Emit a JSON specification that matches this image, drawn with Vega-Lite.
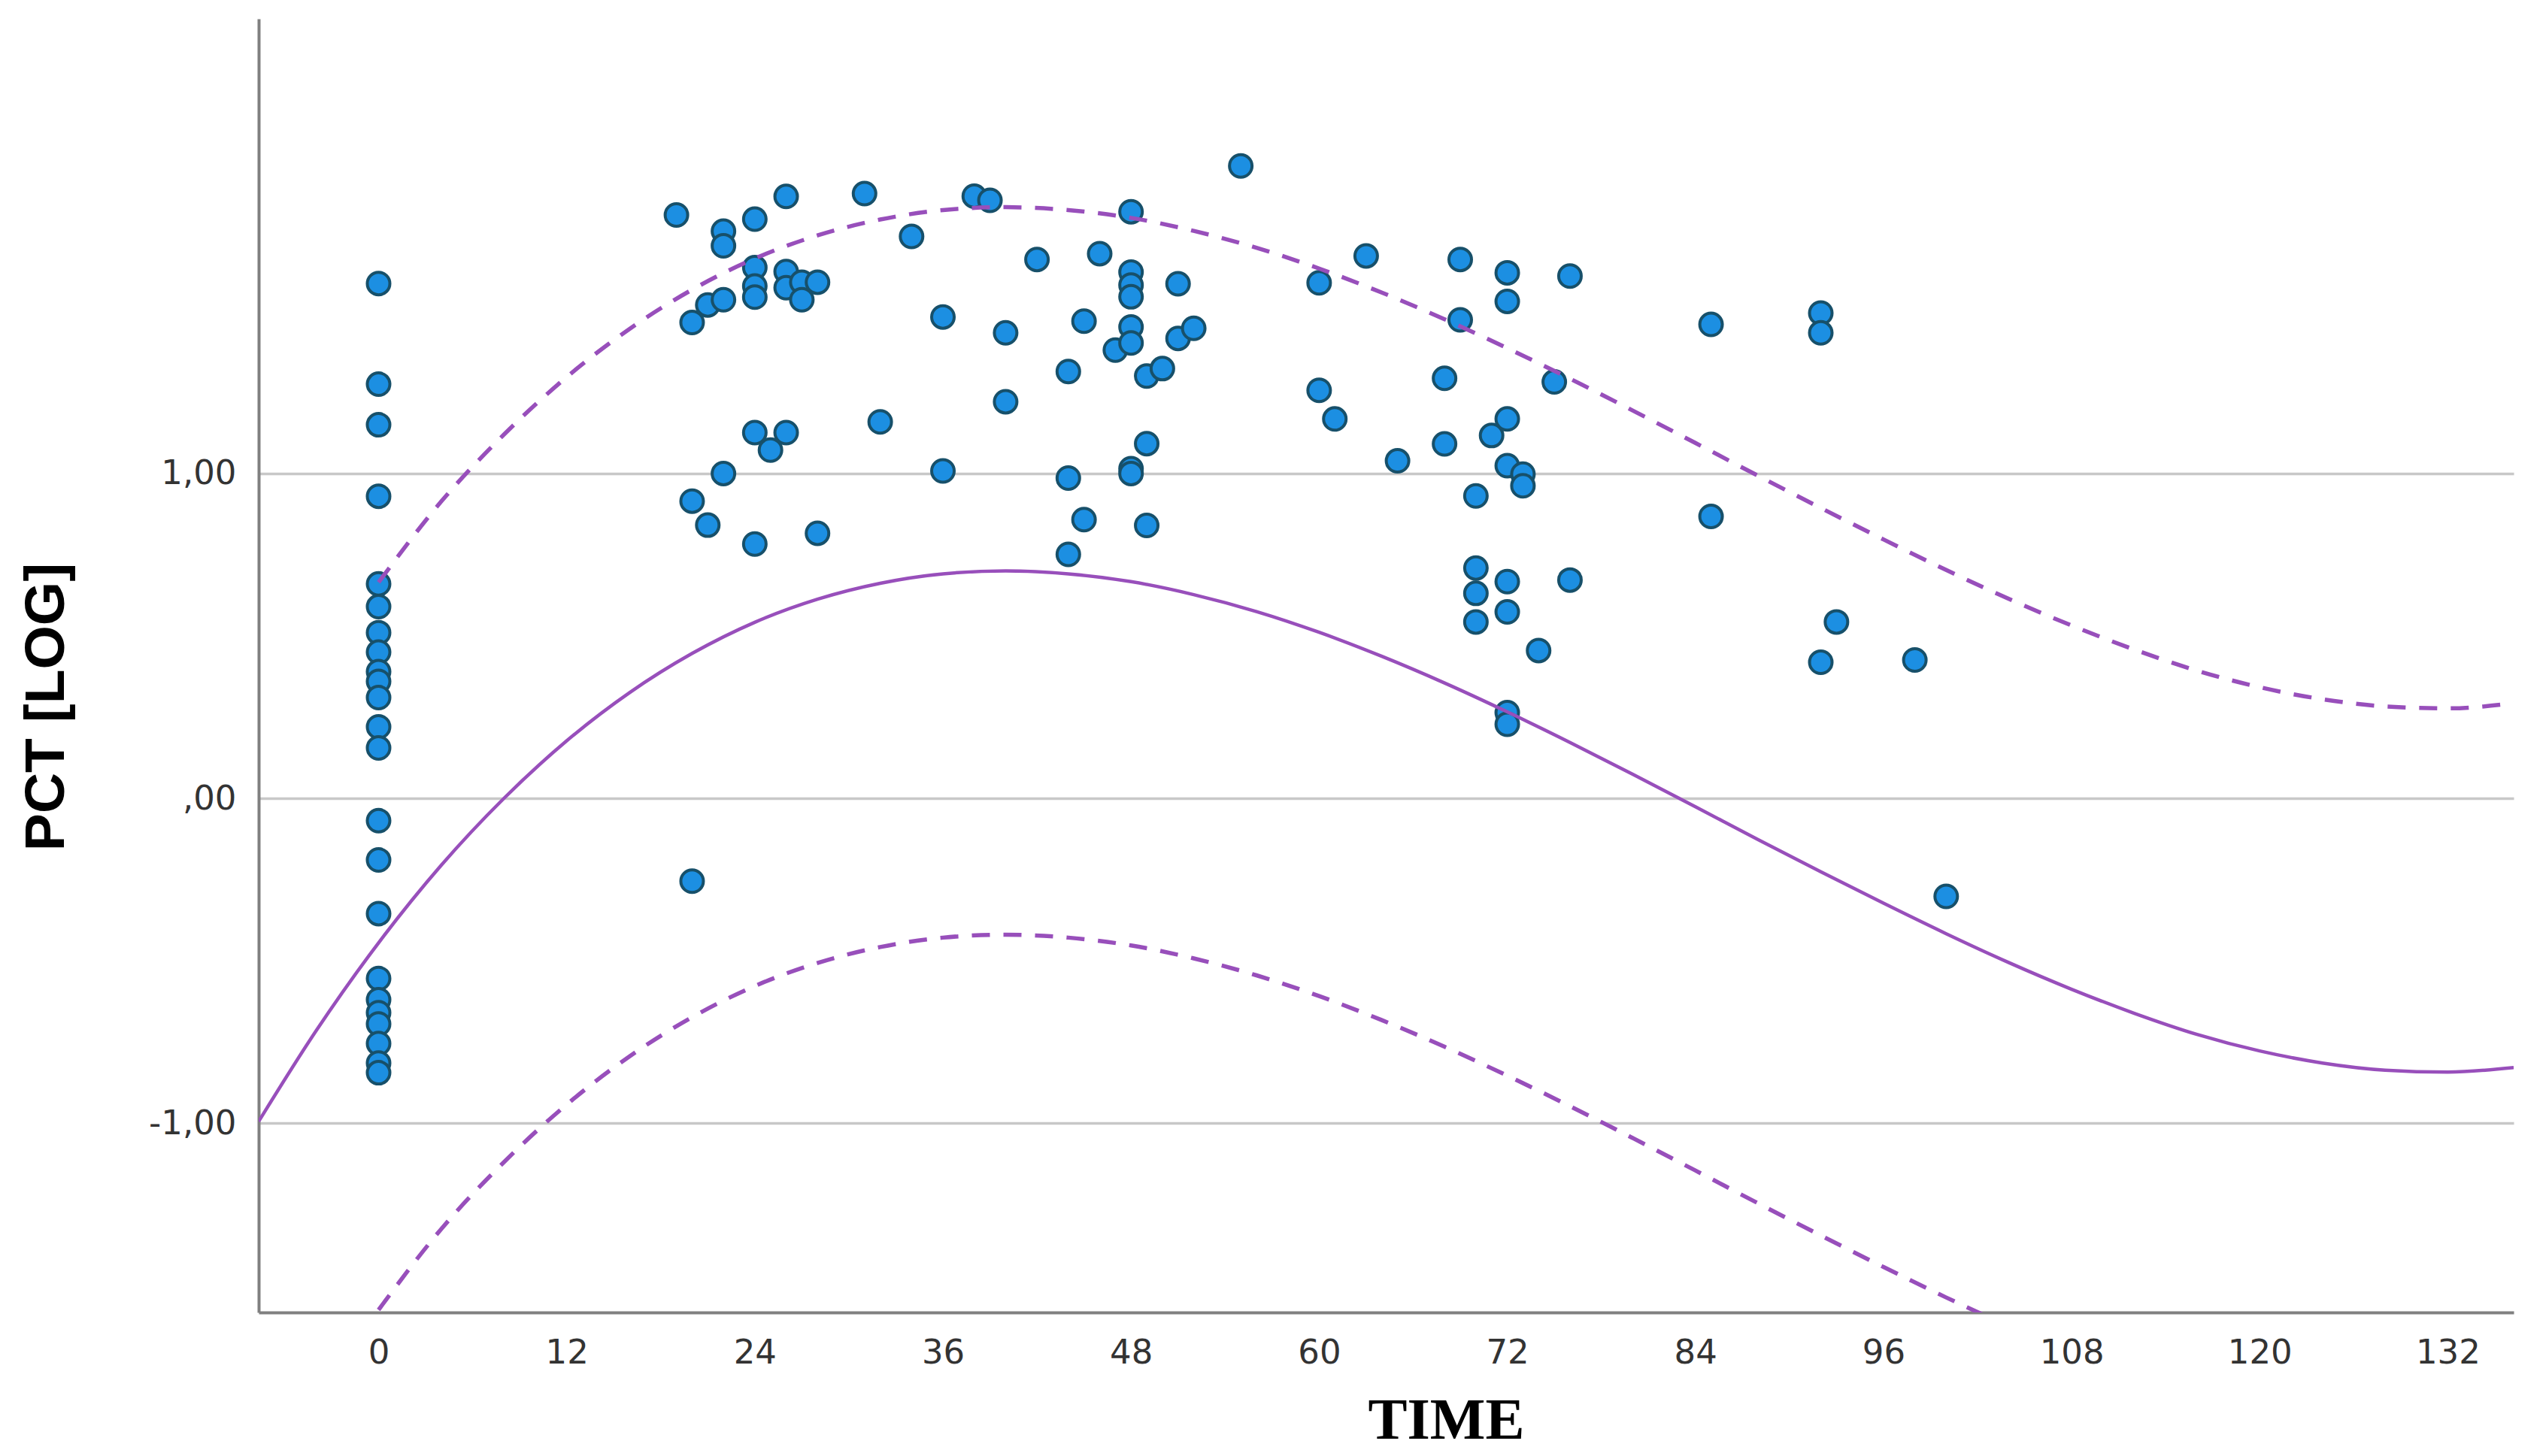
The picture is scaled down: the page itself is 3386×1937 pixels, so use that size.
{
  "$schema": "https://vega.github.io/schema/vega-lite/v6.json",
  "width": 2999,
  "height": 1721,
  "autosize": {"type": "none"},
  "padding": {"left": 344, "top": 25, "right": 43, "bottom": 191},
  "background": "white",
  "config": {"view": {"stroke": null}},
  "datasets": {
    "points": [
      {"time": 0, "pct": 1.585}, {"time": 0, "pct": 1.275}, {"time": 0, "pct": 1.15}, {"time": 0, "pct": 0.93},
      {"time": 0, "pct": 0.66}, {"time": 0, "pct": 0.59}, {"time": 0, "pct": 0.51}, {"time": 0, "pct": 0.45},
      {"time": 0, "pct": 0.39}, {"time": 0, "pct": 0.36}, {"time": 0, "pct": 0.31}, {"time": 0, "pct": 0.22},
      {"time": 0, "pct": 0.155}, {"time": 0, "pct": -0.069}, {"time": 0, "pct": -0.19}, {"time": 0, "pct": -0.355},
      {"time": 0, "pct": -0.555}, {"time": 0, "pct": -0.62}, {"time": 0, "pct": -0.66}, {"time": 0, "pct": -0.695},
      {"time": 0, "pct": -0.755}, {"time": 0, "pct": -0.815}, {"time": 0, "pct": -0.845},
      {"time": 19, "pct": 1.796},
      {"time": 20, "pct": 1.465}, {"time": 20, "pct": 0.915}, {"time": 20, "pct": -0.255},
      {"time": 21, "pct": 1.519}, {"time": 21, "pct": 0.841},
      {"time": 22, "pct": 1.746}, {"time": 22, "pct": 1.701}, {"time": 22, "pct": 1.535}, {"time": 22, "pct": 1.0},
      {"time": 24, "pct": 1.783}, {"time": 24, "pct": 1.634}, {"time": 24, "pct": 1.577}, {"time": 24, "pct": 1.543},
      {"time": 24, "pct": 1.126}, {"time": 24, "pct": 0.783},
      {"time": 25, "pct": 1.072},
      {"time": 26, "pct": 1.853}, {"time": 26, "pct": 1.622}, {"time": 26, "pct": 1.572}, {"time": 26, "pct": 1.126},
      {"time": 27, "pct": 1.589}, {"time": 27, "pct": 1.535},
      {"time": 28, "pct": 1.589}, {"time": 28, "pct": 0.816},
      {"time": 31, "pct": 1.862},
      {"time": 32, "pct": 1.159},
      {"time": 34, "pct": 1.73},
      {"time": 36, "pct": 1.482}, {"time": 36, "pct": 1.008},
      {"time": 38, "pct": 1.854},
      {"time": 39, "pct": 1.841},
      {"time": 40, "pct": 1.433}, {"time": 40, "pct": 1.221},
      {"time": 42, "pct": 1.659},
      {"time": 44, "pct": 1.314}, {"time": 44, "pct": 0.986}, {"time": 44, "pct": 0.751},
      {"time": 45, "pct": 1.469}, {"time": 45, "pct": 0.858},
      {"time": 46, "pct": 1.677},
      {"time": 47, "pct": 1.38},
      {"time": 48, "pct": 1.806}, {"time": 48, "pct": 1.62}, {"time": 48, "pct": 1.58}, {"time": 48, "pct": 1.544},
      {"time": 48, "pct": 1.451}, {"time": 48, "pct": 1.402}, {"time": 48, "pct": 1.015}, {"time": 48, "pct": 1.0},
      {"time": 49, "pct": 1.3}, {"time": 49, "pct": 1.092}, {"time": 49, "pct": 0.84},
      {"time": 50, "pct": 1.323},
      {"time": 51, "pct": 1.584}, {"time": 51, "pct": 1.416},
      {"time": 52, "pct": 1.447},
      {"time": 55, "pct": 1.947},
      {"time": 60, "pct": 1.587}, {"time": 60, "pct": 1.256},
      {"time": 61, "pct": 1.168},
      {"time": 63, "pct": 1.67},
      {"time": 65, "pct": 1.039},
      {"time": 68, "pct": 1.293}, {"time": 68, "pct": 1.091},
      {"time": 69, "pct": 1.659}, {"time": 69, "pct": 1.473},
      {"time": 70, "pct": 0.931}, {"time": 70, "pct": 0.709}, {"time": 70, "pct": 0.631}, {"time": 70, "pct": 0.543},
      {"time": 71, "pct": 1.117},
      {"time": 72, "pct": 1.618}, {"time": 72, "pct": 1.53}, {"time": 72, "pct": 1.168}, {"time": 72, "pct": 1.024},
      {"time": 72, "pct": 0.667}, {"time": 72, "pct": 0.574}, {"time": 72, "pct": 0.264}, {"time": 72, "pct": 0.228},
      {"time": 73, "pct": 0.998}, {"time": 73, "pct": 0.962},
      {"time": 74, "pct": 0.455},
      {"time": 75, "pct": 1.282},
      {"time": 76, "pct": 1.608}, {"time": 76, "pct": 0.672},
      {"time": 85, "pct": 1.459}, {"time": 85, "pct": 0.868},
      {"time": 92, "pct": 1.494}, {"time": 92, "pct": 1.433}, {"time": 92, "pct": 0.419},
      {"time": 93, "pct": 0.543},
      {"time": 98, "pct": 0.426},
      {"time": 100, "pct": -0.302}
    ],
    "curves": [
      {"series": "fit", "time": -7.65, "pct": -0.995}, {"series": "fit", "time": -4, "pct": -0.717},
      {"series": "fit", "time": 0, "pct": -0.445}, {"series": "fit", "time": 4, "pct": -0.206},
      {"series": "fit", "time": 8, "pct": 0.0}, {"series": "fit", "time": 12, "pct": 0.177},
      {"series": "fit", "time": 16, "pct": 0.325}, {"series": "fit", "time": 20, "pct": 0.446},
      {"series": "fit", "time": 24, "pct": 0.542}, {"series": "fit", "time": 28, "pct": 0.613},
      {"series": "fit", "time": 32, "pct": 0.662}, {"series": "fit", "time": 36, "pct": 0.691},
      {"series": "fit", "time": 40, "pct": 0.7}, {"series": "fit", "time": 44, "pct": 0.691},
      {"series": "fit", "time": 48, "pct": 0.667}, {"series": "fit", "time": 52, "pct": 0.627},
      {"series": "fit", "time": 56, "pct": 0.575}, {"series": "fit", "time": 60, "pct": 0.511},
      {"series": "fit", "time": 64, "pct": 0.437}, {"series": "fit", "time": 68, "pct": 0.355},
      {"series": "fit", "time": 72, "pct": 0.266}, {"series": "fit", "time": 76, "pct": 0.172},
      {"series": "fit", "time": 80, "pct": 0.074}, {"series": "fit", "time": 84, "pct": -0.026},
      {"series": "fit", "time": 88, "pct": -0.127}, {"series": "fit", "time": 92, "pct": -0.226},
      {"series": "fit", "time": 96, "pct": -0.323}, {"series": "fit", "time": 100, "pct": -0.417},
      {"series": "fit", "time": 104, "pct": -0.506}, {"series": "fit", "time": 108, "pct": -0.588},
      {"series": "fit", "time": 112, "pct": -0.662}, {"series": "fit", "time": 116, "pct": -0.727},
      {"series": "fit", "time": 120, "pct": -0.778}, {"series": "fit", "time": 124, "pct": -0.815},
      {"series": "fit", "time": 128, "pct": -0.837}, {"series": "fit", "time": 132, "pct": -0.843},
      {"series": "fit", "time": 136.2, "pct": -0.829},
      {"series": "upper", "time": 0, "pct": 0.665}, {"series": "upper", "time": 4, "pct": 0.914},
      {"series": "upper", "time": 8, "pct": 1.12}, {"series": "upper", "time": 12, "pct": 1.297},
      {"series": "upper", "time": 16, "pct": 1.445}, {"series": "upper", "time": 20, "pct": 1.566},
      {"series": "upper", "time": 24, "pct": 1.662}, {"series": "upper", "time": 28, "pct": 1.733},
      {"series": "upper", "time": 32, "pct": 1.782}, {"series": "upper", "time": 36, "pct": 1.811},
      {"series": "upper", "time": 40, "pct": 1.82}, {"series": "upper", "time": 44, "pct": 1.811},
      {"series": "upper", "time": 48, "pct": 1.787}, {"series": "upper", "time": 52, "pct": 1.747},
      {"series": "upper", "time": 56, "pct": 1.695}, {"series": "upper", "time": 60, "pct": 1.631},
      {"series": "upper", "time": 64, "pct": 1.557}, {"series": "upper", "time": 68, "pct": 1.475},
      {"series": "upper", "time": 72, "pct": 1.386}, {"series": "upper", "time": 76, "pct": 1.292},
      {"series": "upper", "time": 80, "pct": 1.194}, {"series": "upper", "time": 84, "pct": 1.094},
      {"series": "upper", "time": 88, "pct": 0.993}, {"series": "upper", "time": 92, "pct": 0.894},
      {"series": "upper", "time": 96, "pct": 0.797}, {"series": "upper", "time": 100, "pct": 0.703},
      {"series": "upper", "time": 104, "pct": 0.614}, {"series": "upper", "time": 108, "pct": 0.532},
      {"series": "upper", "time": 112, "pct": 0.458}, {"series": "upper", "time": 116, "pct": 0.393},
      {"series": "upper", "time": 120, "pct": 0.342}, {"series": "upper", "time": 124, "pct": 0.305},
      {"series": "upper", "time": 128, "pct": 0.283}, {"series": "upper", "time": 132, "pct": 0.277},
      {"series": "upper", "time": 136.2, "pct": 0.293},
      {"series": "lower", "time": 0, "pct": -1.575}, {"series": "lower", "time": 4, "pct": -1.326},
      {"series": "lower", "time": 8, "pct": -1.12}, {"series": "lower", "time": 12, "pct": -0.943},
      {"series": "lower", "time": 16, "pct": -0.795}, {"series": "lower", "time": 20, "pct": -0.674},
      {"series": "lower", "time": 24, "pct": -0.578}, {"series": "lower", "time": 28, "pct": -0.507},
      {"series": "lower", "time": 32, "pct": -0.458}, {"series": "lower", "time": 36, "pct": -0.429},
      {"series": "lower", "time": 40, "pct": -0.42}, {"series": "lower", "time": 44, "pct": -0.429},
      {"series": "lower", "time": 48, "pct": -0.453}, {"series": "lower", "time": 52, "pct": -0.493},
      {"series": "lower", "time": 56, "pct": -0.545}, {"series": "lower", "time": 60, "pct": -0.609},
      {"series": "lower", "time": 64, "pct": -0.683}, {"series": "lower", "time": 68, "pct": -0.765},
      {"series": "lower", "time": 72, "pct": -0.854}, {"series": "lower", "time": 76, "pct": -0.948},
      {"series": "lower", "time": 80, "pct": -1.046}, {"series": "lower", "time": 84, "pct": -1.146},
      {"series": "lower", "time": 88, "pct": -1.247}, {"series": "lower", "time": 92, "pct": -1.346},
      {"series": "lower", "time": 96, "pct": -1.443}, {"series": "lower", "time": 100, "pct": -1.537},
      {"series": "lower", "time": 104, "pct": -1.626}
    ]
  },
  "encoding": {
    "x": {
      "field": "time",
      "type": "quantitative",
      "scale": {"domain": [-7.65, 136.2], "nice": false, "zero": false},
      "axis": {
        "title": "TIME",
        "values": [0, 12, 24, 36, 48, 60, 72, 84, 96, 108, 120, 132],
        "grid": false,
        "ticks": false,
        "tickSize": 0,
        "domainColor": "#808080",
        "domainWidth": 4,
        "labelFont": "DejaVu Sans",
        "labelFontSize": 45,
        "labelColor": "#333333",
        "labelPadding": 53,
        "labelBaseline": "middle",
        "labelFlush": false,
        "labelOverlap": false,
        "titleFont": "Liberation Serif",
        "titleFontSize": 78,
        "titleFontWeight": "bold",
        "titleColor": "#000000",
        "titleX": 1579,
        "titleY": 144,
        "titleAlign": "center",
        "titleBaseline": "middle"
      }
    },
    "y": {
      "field": "pct",
      "type": "quantitative",
      "scale": {"domain": [-1.583, 2.4], "nice": false, "zero": false},
      "axis": {
        "title": "PCT [LOG]",
        "values": [-1, 0, 1],
        "labelExpr": "datum.value == 1 ? '1,00' : datum.value == 0 ? ',00' : '-1,00'",
        "grid": true,
        "gridColor": "#c8c8c8",
        "gridWidth": 3.5,
        "ticks": false,
        "tickSize": 0,
        "domainColor": "#808080",
        "domainWidth": 4,
        "labelFont": "DejaVu Sans",
        "labelFontSize": 45,
        "labelColor": "#333333",
        "labelPadding": 30,
        "titleFont": "Liberation Sans",
        "titleFontSize": 75,
        "titleFontWeight": "bold",
        "titleColor": "#000000",
        "titleX": -283,
        "titleY": 915,
        "titleAngle": -90,
        "titleAlign": "center",
        "titleBaseline": "middle"
      }
    }
  },
  "layer": [
    {
      "data": {"name": "points"},
      "mark": {"type": "circle", "size": 900, "fill": "#1c8fe2", "stroke": "#17506a", "strokeWidth": 4, "opacity": 1}
    },
    {
      "data": {"name": "curves"},
      "transform": [{"filter": "datum.series == 'fit'"}],
      "mark": {"type": "line", "color": "#984fbb", "strokeWidth": 4.5, "interpolate": "monotone", "clip": true}
    },
    {
      "data": {"name": "curves"},
      "transform": [{"filter": "datum.series != 'fit'"}],
      "mark": {"type": "line", "color": "#984fbb", "strokeWidth": 5.5, "strokeDash": [24, 18], "interpolate": "monotone", "clip": true},
      "encoding": {"detail": {"field": "series", "type": "nominal"}}
    },
    {
      "data": {"values": [{"edge": 136.2}]},
      "mark": {"type": "rule", "color": "#a8a8a8", "strokeWidth": 7},
      "encoding": {
        "x": {"field": "edge", "type": "quantitative"},
        "y": {"datum": -1.583},
        "y2": {"datum": 2.4}
      }
    }
  ]
}
